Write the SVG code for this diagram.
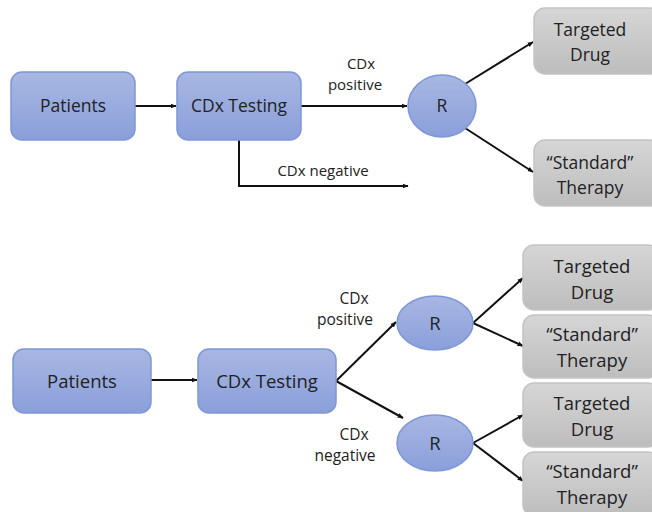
<svg xmlns="http://www.w3.org/2000/svg" width="652" height="512" viewBox="0 0 652 512">
  <defs>
    <linearGradient id="blueFill" x1="0" y1="0" x2="0" y2="1">
      <stop offset="0" stop-color="#a8b7e3"/>
      <stop offset="1" stop-color="#8a9fda"/>
    </linearGradient>
    <linearGradient id="grayFill" x1="0" y1="0" x2="0" y2="1">
      <stop offset="0" stop-color="#d6d6d6"/>
      <stop offset="1" stop-color="#bdbdbd"/>
    </linearGradient>
    <marker id="arrow" viewBox="0 0 10 10" refX="9" refY="5" markerWidth="6" markerHeight="6" orient="auto" markerUnits="userSpaceOnUse">
      <path d="M0,1 L10,5 L0,9 z" fill="#111"/>
    </marker>
  </defs>
  <style>
    .blue { fill: url(#blueFill); stroke: #7f97d6; stroke-width: 1.5; }
    .gray { fill: url(#grayFill); stroke: #c4c4c4; stroke-width: 1.5; }
    .lbl { font-family: "Open Sans", "Liberation Sans", sans-serif; fill: #222; text-anchor: middle; }
    .n1 { font-size: 17.5px; }
    .n2 { font-size: 18.5px; }
    .e1 { font-size: 15px; }
    .e2 { font-size: 15.5px; }
    .conn { fill: none; stroke: #111; stroke-width: 2; marker-end: url(#arrow); }
  </style>
  <rect width="652" height="512" fill="#ffffff"/>

  <!-- Connectors -->
  <g id="connectors">
    <!-- upper design -->
    <line class="conn" x1="135" y1="106" x2="176" y2="106"/>
    <line class="conn" x1="301" y1="106" x2="407" y2="106"/>
    <polyline class="conn" points="239,140 239,186 408,186"/>
    <line class="conn" x1="465" y1="84" x2="533" y2="42"/>
    <line class="conn" x1="465" y1="128" x2="533" y2="172"/>
    <!-- lower design -->
    <line class="conn" x1="151" y1="380" x2="197" y2="380"/>
    <line class="conn" x1="336" y1="381" x2="396" y2="322"/>
    <line class="conn" x1="336" y1="381" x2="403" y2="418"/>
    <line class="conn" x1="473" y1="323" x2="523" y2="278"/>
    <line class="conn" x1="473" y1="323" x2="523" y2="346"/>
    <line class="conn" x1="473" y1="443" x2="523" y2="415"/>
    <line class="conn" x1="473" y1="443" x2="523" y2="481"/>
  </g>

  <!-- Edge labels -->
  <g id="edge-labels" class="lbl">
    <text class="e1" x="361" y="69">CDx</text>
    <text class="e1" x="355" y="90">positive</text>
    <text class="e1" x="323" y="176">CDx negative</text>
    <text class="e2" x="354" y="304">CDx</text>
    <text class="e2" x="345" y="325">positive</text>
    <text class="e2" x="354" y="440">CDx</text>
    <text class="e2" x="345" y="461">negative</text>
  </g>

  <!-- Upper design nodes -->
  <g id="patients-1">
    <rect class="blue" x="11" y="72" width="124" height="68" rx="11"/>
    <text class="lbl n1" x="73" y="112">Patients</text>
  </g>
  <g id="cdx-testing-1">
    <rect class="blue" x="177" y="72" width="124" height="68" rx="11"/>
    <text class="lbl n1" x="239" y="112">CDx Testing</text>
  </g>
  <g id="randomize-1">
    <ellipse class="blue" cx="442" cy="106" rx="34" ry="31"/>
    <text class="lbl n1" x="442" y="112">R</text>
  </g>
  <g id="targeted-drug-1">
    <rect class="gray" x="534" y="8" width="126" height="66" rx="11"/>
    <text class="lbl n1" x="590" y="36">Targeted</text>
    <text class="lbl n1" x="590" y="61">Drug</text>
  </g>
  <g id="standard-therapy-1">
    <rect class="gray" x="534" y="140" width="126" height="66" rx="11"/>
    <text class="lbl n1" x="590" y="169">“Standard”</text>
    <text class="lbl n1" x="590" y="194">Therapy</text>
  </g>

  <!-- Lower design nodes -->
  <g id="patients-2">
    <rect class="blue" x="13" y="349" width="138" height="64" rx="11"/>
    <text class="lbl n2" x="82" y="388">Patients</text>
  </g>
  <g id="cdx-testing-2">
    <rect class="blue" x="198" y="349" width="138" height="64" rx="11"/>
    <text class="lbl n2" x="267" y="388">CDx Testing</text>
  </g>
  <g id="randomize-2">
    <ellipse class="blue" cx="435" cy="323" rx="38" ry="27"/>
    <text class="lbl n2" x="435" y="330">R</text>
  </g>
  <g id="randomize-3">
    <ellipse class="blue" cx="435" cy="443" rx="38" ry="28"/>
    <text class="lbl n2" x="435" y="450">R</text>
  </g>
  <g id="targeted-drug-2">
    <rect class="gray" x="523" y="245" width="136" height="65" rx="11"/>
    <text class="lbl n2" x="592" y="273">Targeted</text>
    <text class="lbl n2" x="592" y="299">Drug</text>
  </g>
  <g id="standard-therapy-2">
    <rect class="gray" x="523" y="315" width="136" height="63" rx="11"/>
    <text class="lbl n2" x="592" y="341">“Standard”</text>
    <text class="lbl n2" x="592" y="367">Therapy</text>
  </g>
  <g id="targeted-drug-3">
    <rect class="gray" x="523" y="383" width="136" height="64" rx="11"/>
    <text class="lbl n2" x="592" y="410">Targeted</text>
    <text class="lbl n2" x="592" y="436">Drug</text>
  </g>
  <g id="standard-therapy-3">
    <rect class="gray" x="523" y="452" width="136" height="64" rx="11"/>
    <text class="lbl n2" x="592" y="478">“Standard”</text>
    <text class="lbl n2" x="592" y="504">Therapy</text>
  </g>
</svg>
